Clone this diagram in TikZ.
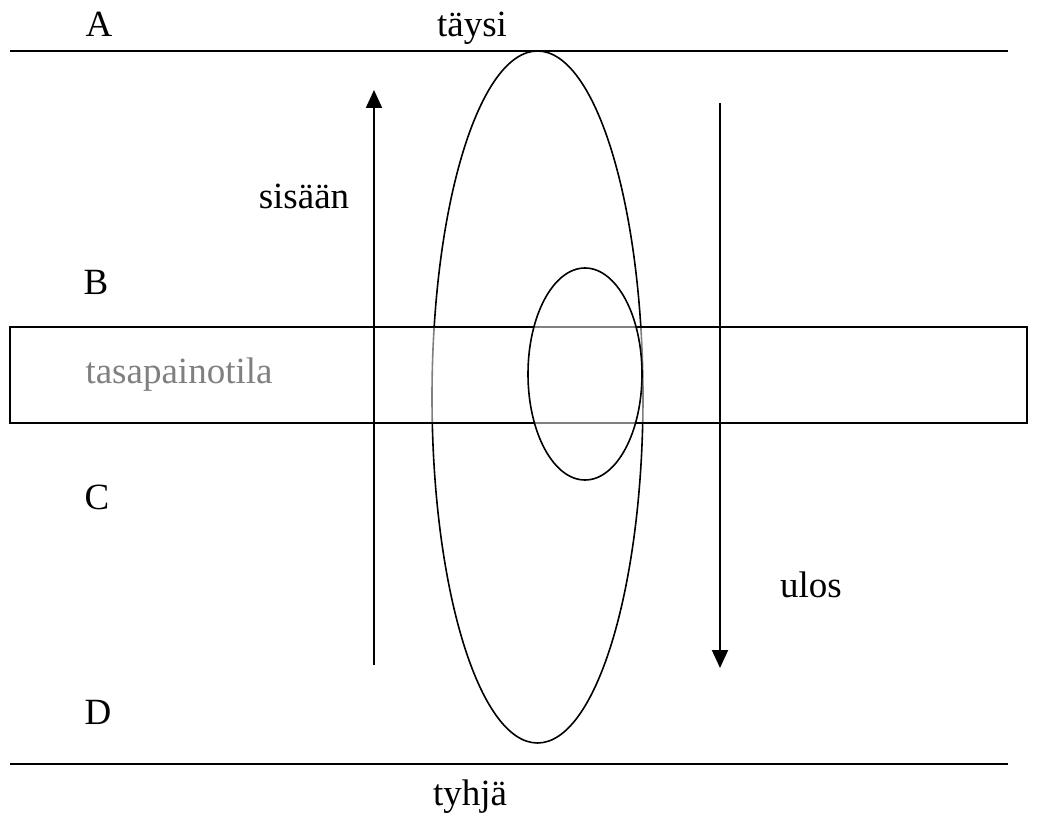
\documentclass[tikz,border=0pt]{standalone}
\usepackage{fontspec}
\setmainfont{Liberation Serif}
\usetikzlibrary{arrows.meta}
\begin{document}
\begin{tikzpicture}[x=1pt,y=-1pt,
  lbl/.style={font=\fontsize{37}{44}\selectfont, inner sep=0pt, anchor=base},
  hline/.style={line width=2pt},
  outl/.style={line width=1.6pt},
  arr/.style={line width=2pt,-{Triangle[length=18pt,width=16pt]}}]
\useasboundingbox (0,0) rectangle (1037,816);
\draw[outl] (537.5,397) ellipse [x radius=105.5, y radius=346];
\draw[outl,fill=white,fill opacity=0.5] (10,327) rectangle (1027,423);
\draw[outl,fill=white,fill opacity=0.5] (585,374) ellipse [x radius=57, y radius=106];
\draw[hline] (10,51) -- (1008,51);
\draw[hline] (10,764) -- (1008,764);
\coordinate (inS) at (374,665);
\coordinate (inE) at (374,90);
\coordinate (outS) at (720,103);
\coordinate (outE) at (720,668);
\draw[arr] (inS) -- (inE);
\draw[arr] (outS) -- (outE);
\node[lbl] (A) at (99,37) {A};
\node[lbl] (taysi) at (472,37) {täysi};
\node[lbl] (B) at (96,294) {B};
\node[lbl,text=black!50] (tasa) at (179,383) {tasapainotila};
\node[lbl] (C) at (97,509) {C};
\node[lbl] (D) at (98,724) {D};
\node[lbl] (sis) at (304,208) {sisään};
\node[lbl] (ulos) at (811,597) {ulos};
\node[lbl] (tyhja) at (470,805) {tyhjä};
\end{tikzpicture}
\end{document}
